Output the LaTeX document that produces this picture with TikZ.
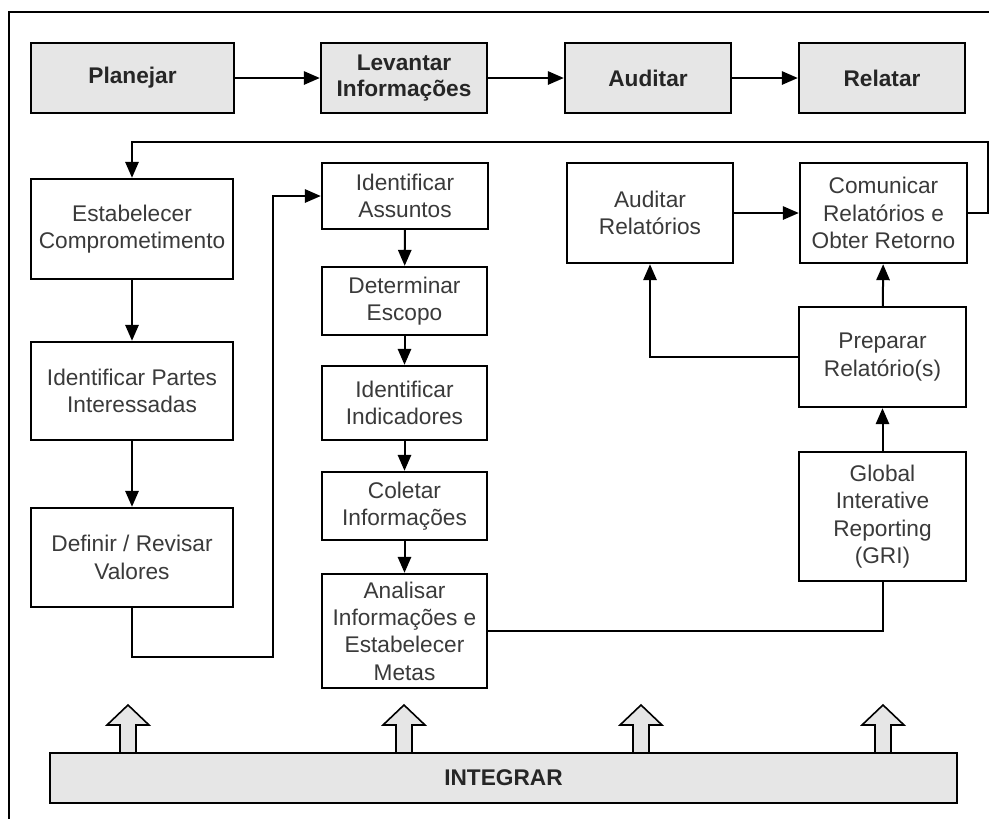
\documentclass[tikz,border=0pt]{standalone}
\usepackage{fontspec}
\setmainfont{Liberation Sans}
\usetikzlibrary{arrows.meta,fit,calc}
\definecolor{boxgray}{HTML}{E6E6E6}
\definecolor{txtgray}{HTML}{3A3A3A}
% a framed box spanning two corners, with its text centred inside
\newcommand\flowbox[5]{%
  \node[#1,fit={#3 #4}] (#2) {};
  \node[#1 text] at (#2.center) {#5};}
\begin{document}
\begin{tikzpicture}[x=0.75pt,y=-0.75pt,
  base/.style={draw=black,line width=1.8pt,inner sep=0pt},
  stage/.style={base,fill=boxgray},
  task/.style={base,fill=white},
  stage text/.style={align=center,inner sep=0pt,
    font=\fontsize{17}{20}\selectfont\bfseries,text=black!85},
  task text/.style={align=center,inner sep=0pt,
    font=\fontsize{17}{20.5}\selectfont,text=txtgray},
  conn/.style={line width=1.5pt,draw=black},
  arr/.style={conn,-{Triangle[length=12pt,width=10pt]}},
  hollow/.style={draw=black,line width=1.2pt,fill=boxgray,line join=miter}]
\useasboundingbox (0,0) rectangle (989,819);
\fill[white] (0,0) rectangle (989,819);

% open frame (top and left edges)
\draw[line width=1.5pt] (989,12) -- (9,12) -- (9,819);

% main stages
\flowbox{stage}{plan}{(31,43)}{(234,113)}{Planejar}
\flowbox{stage}{lev}{(321,43)}{(487,113)}{Levantar\\Informações}
\flowbox{stage}{aud}{(565,43)}{(731,113)}{Auditar}
\flowbox{stage}{rel}{(799,43)}{(965,113)}{Relatar}

\draw[arr] (plan) -- (lev);
\draw[arr] (lev) -- (aud);
\draw[arr] (aud) -- (rel);

% left column
\flowbox{task}{est}{(31,179)}{(233,279)}{Estabelecer\\Comprometimento}
\flowbox{task}{partes}{(31,342)}{(233,440)}{Identificar Partes\\Interessadas}
\flowbox{task}{def}{(31,508)}{(233,607)}{Definir / Revisar\\Valores}

% middle column
\flowbox{task}{ass}{(322,163)}{(488,229)}{Identificar\\Assuntos}
\flowbox{task}{det}{(322,267)}{(487,335)}{Determinar\\Escopo}
\flowbox{task}{ind}{(322,366)}{(487,440)}{Identificar\\Indicadores}
\flowbox{task}{col}{(322,472)}{(487,540)}{Coletar\\Informações}
\flowbox{task}{ana}{(322,574)}{(487,688)}{Analisar\\Informações e\\Estabelecer\\Metas}

% right side
\flowbox{task}{audr}{(567,163)}{(733,263)}{Auditar\\Relatórios}
\flowbox{task}{com}{(800,163)}{(967,263)}{Comunicar\\Relatórios e\\Obter Retorno}
\flowbox{task}{prep}{(799,307)}{(966,407)}{Preparar\\Relatório(s)}
\flowbox{task}{gri}{(799,452)}{(966,581)}{Global\\Interative\\Reporting\\(GRI)}

% feedback loop from the last step back to the first
\coordinate (fbR) at (988,142);
\draw[arr] (com.east) -| (fbR) -| (est.north);

% left column flow
\draw[arr] (est) -- (partes);
\draw[arr] (partes) -- (def);
\coordinate (lowK) at (273,657);
\draw[arr] (def.south) |- (lowK) |- (ass.west);

% middle column flow
\draw[arr] (ass) -- (det);
\draw[arr] (det) -- (ind);
\draw[arr] (ind) -- (col);
\draw[arr] (col) -- (ana);
\draw[conn] (ana.east) -| (gri.south);

% right side flow
\draw[arr] (gri) -- (prep);
\draw[arr] (prep) -- (com);
\draw[arr] (prep.west) -| (audr.south);
\draw[arr] (audr) -- (com);

% hollow arrows rising from the base bar
\foreach \cx in {128,404,641,883}{
  \draw[hollow] (\cx-8,754) -- (\cx-8,725) -- (\cx-21,725) -- (\cx,705)
    -- (\cx+21,725) -- (\cx+8,725) -- (\cx+8,754);
}
\flowbox{stage}{integ}{(50,753)}{(957,803)}{INTEGRAR}
\end{tikzpicture}
\end{document}
